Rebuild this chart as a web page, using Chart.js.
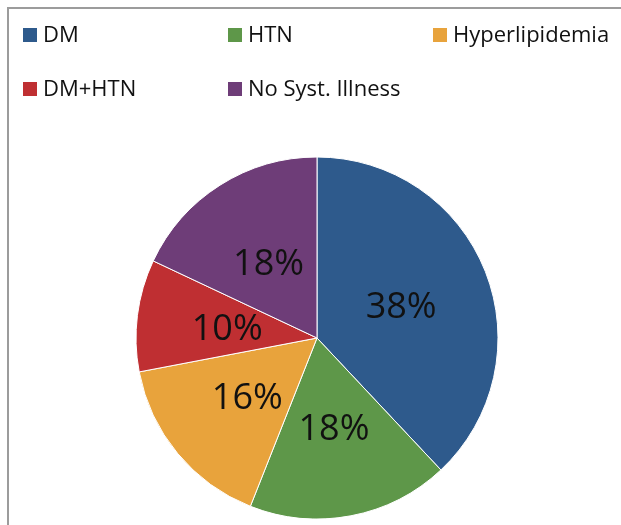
<!DOCTYPE html>
<html>
<head>
<meta charset="utf-8">
<script src="https://cdn.jsdelivr.net/npm/chart.js@4/dist/chart.umd.min.js"></script>
<style>
  html, body { margin: 0; padding: 0; background: #fff; }
  #wrap { position: relative; width: 621px; height: 525px; }
</style>
</head>
<body>
<div id="wrap"><canvas id="pieChart" width="621" height="525"></canvas></div>
<script>
// Chart data
const categories = ['DM', 'HTN', 'Hyperlipidemia', 'DM+HTN', 'No Syst. Illness'];
const percentages = [38, 18, 16, 10, 18];
const sliceColors = ['#2E5A8C', '#5E9749', '#E8A33C', '#BF2F32', '#6E3D78'];

// Legend grid (Excel style: 3 columns)
const legendCols = [23, 228, 433];
const legendRows = [35, 89];

const framePlugin = {
  id: 'frame',
  beforeDraw(chart) {
    const ctx = chart.ctx;
    ctx.save();
    ctx.strokeStyle = '#9c9c9c';
    ctx.lineWidth = 2;
    ctx.strokeRect(8, 8, 700, 600);
    ctx.restore();
  }
};

const gridLegendPlugin = {
  id: 'gridLegend',
  afterDraw(chart) {
    const ctx = chart.ctx;
    ctx.save();
    ctx.font = '22px "Open Sans"';
    ctx.textBaseline = 'middle';
    ctx.textAlign = 'left';
    categories.forEach((name, i) => {
      const x = legendCols[i % 3];
      const y = legendRows[Math.floor(i / 3)];
      ctx.fillStyle = sliceColors[i];
      ctx.fillRect(x, y - 7, 14, 14);
      ctx.fillStyle = '#111';
      ctx.fillText(name, x + 20, y + 1);
    });
    ctx.restore();
  }
};

const sliceLabelPlugin = {
  id: 'sliceLabels',
  afterDatasetsDraw(chart) {
    const ctx = chart.ctx;
    const meta = chart.getDatasetMeta(0);
    ctx.save();
    ctx.font = '36px "Open Sans"';
    ctx.fillStyle = '#111';
    ctx.textAlign = 'center';
    ctx.textBaseline = 'middle';
    meta.data.forEach((arc, i) => {
      const p = arc.getProps(['x', 'y', 'startAngle', 'endAngle', 'outerRadius'], true);
      const mid = (p.startAngle + p.endAngle) / 2;
      const r = p.outerRadius * 0.5;
      ctx.fillText(percentages[i] + '%', p.x + Math.cos(mid) * r, p.y + Math.sin(mid) * r + 3);
    });
    ctx.restore();
  }
};

new Chart(document.getElementById('pieChart'), {
  type: 'pie',
  data: {
    labels: categories,
    datasets: [{
      data: percentages,
      backgroundColor: sliceColors,
      borderColor: '#ffffff',
      borderWidth: 1,
      hoverOffset: 0
    }]
  },
  options: {
    responsive: false,
    animation: false,
    radius: 181,
    layout: {
      padding: { top: 155, left: 134, right: 121, bottom: 4 }
    },
    plugins: {
      legend: { display: false },
      tooltip: { enabled: false }
    }
  },
  plugins: [framePlugin, gridLegendPlugin, sliceLabelPlugin]
});
</script>
</body>
</html>
